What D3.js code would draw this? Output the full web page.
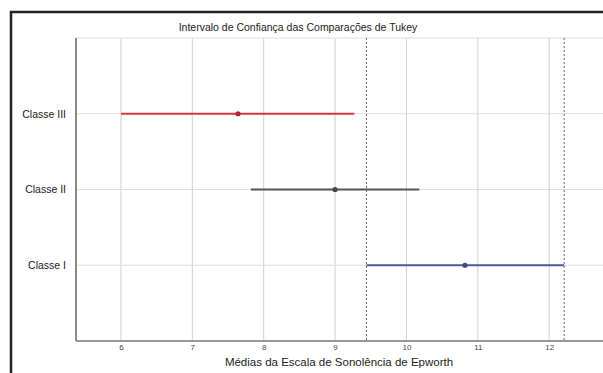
<!DOCTYPE html>
<html>
<head>
<meta charset="utf-8">
<script src="https://d3js.org/d3.v7.min.js"></script>
<style>
body { margin: 0; background: #fff; }
svg { display: block; font-family: "Liberation Sans", Arial, sans-serif; }
</style>
</head>
<body>
<svg id="chart" width="603" height="373"></svg>
<script>
// Tukey comparison intervals
var classes = ["Classe I", "Classe II", "Classe III"];
var means = [10.82, 9.0, 7.64];
var lower = [9.44, 7.82, 6.0];
var upper = [12.21, 10.18, 9.27];
var barColors = ["#4b5a9c", "#555555", "#d8363b"];
var xTicks = [6, 7, 8, 9, 10, 11, 12];

var vis = d3.select("#chart"), WIDTH = 603, HEIGHT = 373;

// frame round the figure
vis.append("path")
	.attr("d", "M11,373 V12 H603")
	.attr("fill", "none").attr("stroke", "#222").attr("stroke-width", 2.5);

var xScale = d3.scaleLinear().domain([5.37, 12.74]).range([76, 602]);
var yScale = d3.scaleLinear().domain([0, 4]).range([341, 38]);
var rows = classes.map(function(c, i) { return i + 1; });

// grid
vis.append("g").selectAll("line").data(xTicks).enter().append("line")
	.attr("x1", function(d) { return xScale(d); }).attr("x2", function(d) { return xScale(d); })
	.attr("y1", yScale(4)).attr("y2", yScale(0))
	.attr("stroke", "#d0d0d0").attr("stroke-width", 1);
vis.append("g").selectAll("line").data(rows.concat([4])).enter().append("line")
	.attr("x1", xScale.range()[0]).attr("x2", WIDTH)
	.attr("y1", function(d) { return yScale(d); }).attr("y2", function(d) { return yScale(d); })
	.attr("stroke", "#dedede").attr("stroke-width", 1.2);

// dashed limits of the selected group (Classe I)
vis.append("g").selectAll("line").data([lower[0], upper[0]]).enter().append("line")
	.attr("x1", function(d) { return xScale(d); }).attr("x2", function(d) { return xScale(d); })
	.attr("y1", yScale(4)).attr("y2", yScale(0))
	.attr("stroke", "#666").attr("stroke-width", 1).attr("stroke-dasharray", "2,2");

// axes
var xAxis = d3.axisBottom(xScale).tickValues(xTicks).tickSize(0).tickPadding(3).tickFormat(d3.format("d"));
var gx = vis.append("g").attr("transform", "translate(0," + yScale(0) + ")").call(xAxis);
gx.select(".domain").remove();
gx.selectAll("text").attr("fill", "#444").style("font-size", "8px");

vis.append("line")
	.attr("x1", xScale.range()[0]).attr("x2", WIDTH)
	.attr("y1", yScale(0)).attr("y2", yScale(0))
	.attr("stroke", "#777").attr("stroke-width", 1.5);
vis.append("line")
	.attr("x1", xScale.range()[0]).attr("x2", xScale.range()[0])
	.attr("y1", yScale(4)).attr("y2", yScale(0))
	.attr("stroke", "#888").attr("stroke-width", 2);

var yAxis = d3.axisLeft(yScale).tickValues(rows).tickSize(0).tickPadding(10)
	.tickFormat(function(d) { return classes[d - 1]; });
var gy = vis.append("g").attr("transform", "translate(" + xScale.range()[0] + ",0)").call(yAxis);
gy.select(".domain").remove();
gy.selectAll("text").attr("fill", "#222").style("font-size", "10.5px");

// intervals
vis.append("g").selectAll("line").data(classes).enter().append("line")
	.attr("x1", function(d, i) { return xScale(lower[i]); })
	.attr("x2", function(d, i) { return xScale(upper[i]); })
	.attr("y1", function(d, i) { return yScale(i + 1); })
	.attr("y2", function(d, i) { return yScale(i + 1); })
	.attr("stroke", function(d, i) { return barColors[i]; })
	.attr("stroke-width", 2);
vis.append("g").selectAll("circle").data(classes).enter().append("circle")
	.attr("cx", function(d, i) { return xScale(means[i]); })
	.attr("cy", function(d, i) { return yScale(i + 1); })
	.attr("r", 2.6)
	.attr("fill", function(d, i) { return d3.color(barColors[i]).darker(0.6); });

// titles
vis.append("text")
	.attr("x", 298).attr("y", 31)
	.attr("text-anchor", "middle")
	.attr("fill", "#222").style("font-size", "10.5px")
	.text("Intervalo de Confiança das Comparações de Tukey");
vis.append("text")
	.attr("x", 339).attr("y", 366)
	.attr("text-anchor", "middle")
	.attr("fill", "#222").style("font-size", "11.5px")
	.text("Médias da Escala de Sonolência de Epworth");
</script>
</body>
</html>
